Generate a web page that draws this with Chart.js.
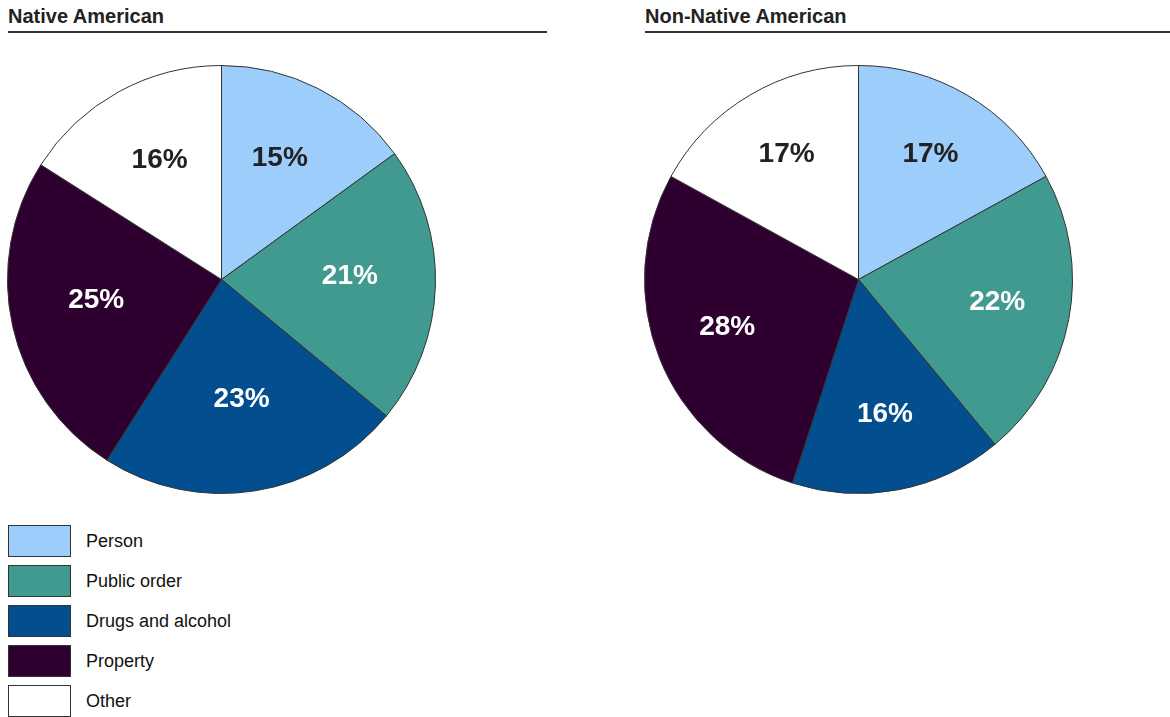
<!DOCTYPE html>
<html>
<head>
<meta charset="utf-8">
<script src="https://cdn.jsdelivr.net/npm/chart.js@4.4.1/dist/chart.umd.min.js"></script>
<style>
  body { margin: 0; background: #fff; font-family: "Liberation Sans", Arial, sans-serif; }
  .title { position: absolute; top: 5px; font-size: 20px; font-weight: bold; color: #222;
           border-bottom: 2px solid #333; padding-bottom: 4px; line-height: 22px; }
  .pie { position: absolute; width: 429px; height: 429px; }
  #legend { position: absolute; left: 8px; top: 521px; }
  .item { display: flex; align-items: center; height: 40px; }
  .box { width: 61px; height: 30px; border: 1px solid #333; margin-right: 15px; }
  .item span { font-size: 18px; color: #111; }
</style>
</head>
<body>
<div class="title" style="left:8px; width:539px;">Native American</div>
<div class="title" style="left:645px; width:525px;">Non-Native American</div>
<div class="pie" style="left:7px; top:65px;"><canvas id="native"></canvas></div>
<div class="pie" style="left:644px; top:65px;"><canvas id="nonNative"></canvas></div>
<div id="legend"></div>

<script>
  // offense categories and shares (%)
  const categories = ["Person", "Public order", "Drugs and alcohol", "Property", "Other"];
  const nativeValues = [15, 21, 23, 25, 16];
  const nonNativeValues = [17, 22, 16, 28, 17];

  const sliceColors = ["#9DCDFB", "#409A90", "#034E8E", "#2E0030", "#FFFFFF"];
  const labelColors = ["#222", "#fff", "#fff", "#fff", "#222"];

  // percent labels inside each slice
  const sliceLabels = {
    id: "sliceLabels",
    afterDatasetsDraw(chart, args, opts) {
      const ctx = chart.ctx;
      const data = chart.data.datasets[0].data;
      chart.getDatasetMeta(0).data.forEach((arc, i) => {
        const mid = (arc.startAngle + arc.endAngle) / 2;
        const r = arc.outerRadius * opts.distance;
        ctx.save();
        ctx.font = "bold 28px 'Liberation Sans', Arial, sans-serif";
        ctx.fillStyle = labelColors[i];
        ctx.textAlign = "center";
        ctx.textBaseline = "middle";
        ctx.fillText(data[i] + "%", arc.x + Math.cos(mid) * r, arc.y + opts.shift + Math.sin(mid) * r);
        ctx.restore();
      });
    },
  };

  function makePie(id, values, distance, shift) {
    new Chart(document.getElementById(id), {
      type: "pie",
      plugins: [sliceLabels],
      data: {
        labels: categories,
        datasets: [
          {
            data: values,
            backgroundColor: sliceColors,
            borderColor: "#333",
            borderWidth: 1,
          },
        ],
      },
      options: {
        responsive: true,
        maintainAspectRatio: false,
        animation: false,
        layout: { padding: 0 },
        plugins: {
          legend: { display: false },
          tooltip: { enabled: false },
          sliceLabels: { distance: distance, shift: shift },
        },
      },
    });
  }

  makePie("native", nativeValues, 0.6, -7);
  makePie("nonNative", nonNativeValues, 0.66, -4);

  const legend = document.getElementById("legend");
  categories.forEach((name, i) => {
    const item = document.createElement("div");
    item.className = "item";
    item.innerHTML = '<div class="box" style="background:' + sliceColors[i] + '"></div><span>' + name + "</span>";
    legend.appendChild(item);
  });
</script>
</body>
</html>
